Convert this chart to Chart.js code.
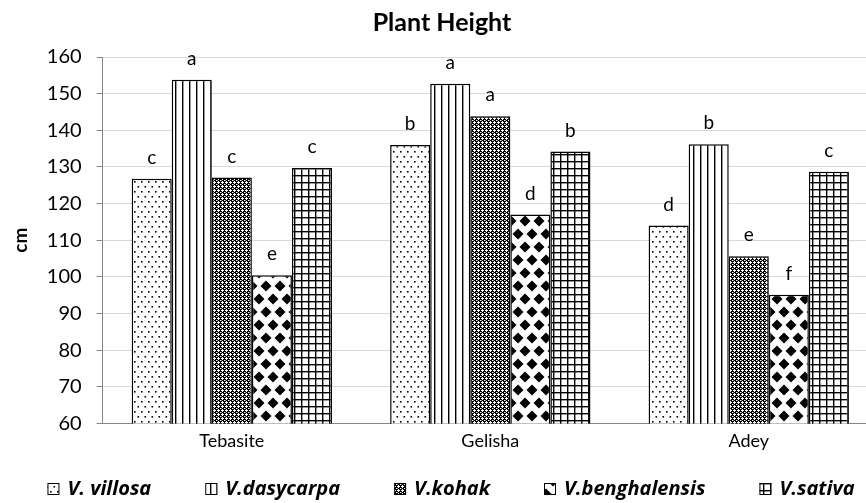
<!DOCTYPE html>
<html>
<head>
<meta charset="utf-8">
<title>Plant Height</title>
<script src="https://cdn.jsdelivr.net/npm/chart.js@4.4.1/dist/chart.umd.min.js"></script>
<style>
    html, body { margin: 0; padding: 0; background: #fff; overflow: hidden; }
    /* the original plot area runs a little past the right edge of the picture */
    #wrap { width: 878px; height: 503px; position: relative; }
</style>
</head>
<body>
<div id="wrap"><canvas id="plantHeightChart"></canvas></div>
<script>
// Plant height (cm) per site and species
const categories = ['Tebasite', 'Gelisha', 'Adey'];
const seriesNames = ['V. villosa', 'V.dasycarpa', 'V.kohak', 'V.benghalensis', 'V.sativa'];
const chartTitle = 'Plant Height';

const villosaValues = [126.8, 136.0, 114.0];
const dasycarpaValues = [153.8, 152.7, 136.2];
const kohakValues = [127.1, 143.8, 105.6];
const benghalensisValues = [100.4, 117.0, 95.1];
const sativaValues = [129.7, 134.2, 128.7];

// Mean separation letters
const villosaLetters = ['c', 'b', 'd'];
const dasycarpaLetters = ['a', 'a', 'b'];
const kohakLetters = ['c', 'a', 'e'];
const benghalensisLetters = ['e', 'd', 'f'];
const sativaLetters = ['c', 'b', 'c'];

const yMin = 60;
const yMax = 160;
const yStep = 10;

const VIEW_WIDTH = 866;
const FONT = 'Lato, "Open Sans", sans-serif';
const LEGEND_FONT = '"Open Sans", Lato, sans-serif';

// Build a fill pattern from a small tile
function makePattern(w, h, draw) {
    const tile = document.createElement('canvas');
    tile.width = w;
    tile.height = h;
    const t = tile.getContext('2d');
    t.fillStyle = '#fff';
    t.fillRect(0, 0, w, h);
    t.fillStyle = '#000';
    draw(t, w, h);
    return t.createPattern(tile, 'repeat');
}

// sparse dots
const dotsPattern = makePattern(7, 10, (t) => {
    t.fillRect(1, 1, 1.6, 1.6);
    t.fillRect(4.5, 6, 1.6, 1.6);
});

// vertical lines
const verticalPattern = makePattern(7, 4, (t) => {
    t.fillRect(0, 0, 1.4, 4);
});

// fine dark texture
const finePattern = makePattern(4, 4, (t) => {
    t.fillRect(0, 0, 4, 4);
    t.fillStyle = '#fff';
    t.fillRect(2, 1, 1, 1);
    t.fillRect(1, 2, 1, 1);
    t.fillRect(2, 2, 1, 1);
    t.fillRect(3, 2, 1, 1);
    t.fillRect(2, 3, 1, 1);
    t.fillRect(0, 0, 1, 1);
    t.fillStyle = '#777';
    t.fillRect(1, 0, 1, 1);
});

// black diamonds
const diamondPattern = makePattern(14, 26, (t) => {
    const r = 5.5;
    const centers = [[0, 0], [14, 0], [0, 26], [14, 26], [7, 13]];
    centers.forEach(([cx, cy]) => {
        t.beginPath();
        t.moveTo(cx, cy - r);
        t.lineTo(cx + r, cy);
        t.lineTo(cx, cy + r);
        t.lineTo(cx - r, cy);
        t.closePath();
        t.fill();
    });
});

// square grid
const gridPattern = makePattern(7, 7, (t) => {
    t.fillRect(0, 0, 7, 1.4);
    t.fillRect(0, 0, 1.4, 7);
});

function makeDataset(label, data, letters, pattern) {
    return {
        label: label,
        data: data,
        letters: letters,
        backgroundColor: pattern,
        borderColor: '#000',
        borderWidth: 1.5,
        borderSkipped: 'bottom'
    };
}

// Title, drawn a little right of centre like the original
const titlePlugin = {
    id: 'plotTitle',
    afterDraw(chart) {
        const ctx = chart.ctx;
        ctx.save();
        ctx.font = 'bold 25px ' + FONT;
        ctx.fillStyle = '#000';
        ctx.textAlign = 'center';
        ctx.textBaseline = 'alphabetic';
        ctx.fillText(chartTitle, VIEW_WIDTH / 2 + 9, 31);
        ctx.restore();
    }
};

// Letters above bars
const letterPlugin = {
    id: 'barLetters',
    afterDatasetsDraw(chart) {
        const ctx = chart.ctx;
        ctx.save();
        ctx.font = '19px ' + FONT;
        ctx.fillStyle = '#000';
        ctx.textAlign = 'center';
        ctx.textBaseline = 'alphabetic';
        chart.data.datasets.forEach((ds, i) => {
            chart.getDatasetMeta(i).data.forEach((bar, j) => {
                ctx.fillText(ds.letters[j], bar.x, bar.y - 15);
            });
        });
        ctx.restore();
    }
};

// Bottom legend with wide spacing between entries
const legendPlugin = {
    id: 'wideLegend',
    afterDraw(chart) {
        const ctx = chart.ctx;
        const boxSize = 12;
        const boxGap = 8;
        const itemGap = 54;
        ctx.save();
        ctx.font = 'italic bold 20px ' + LEGEND_FONT;
        const widths = chart.data.datasets.map(ds => ctx.measureText(ds.label).width);
        const total = widths.reduce((a, w) => a + boxSize + boxGap + w, 0) + itemGap * (widths.length - 1);
        let x = (VIEW_WIDTH - total) / 2 + 18;
        const y = chart.height - 14;
        ctx.textBaseline = 'middle';
        ctx.textAlign = 'left';
        chart.data.datasets.forEach((ds, i) => {
            ctx.fillStyle = ds.backgroundColor;
            ctx.fillRect(x, y - boxSize / 2, boxSize, boxSize);
            ctx.strokeStyle = '#000';
            ctx.lineWidth = 1;
            ctx.strokeRect(x + 0.5, y - boxSize / 2 + 0.5, boxSize - 1, boxSize - 1);
            ctx.fillStyle = '#000';
            ctx.fillText(ds.label, x + boxSize + boxGap, y);
            x += boxSize + boxGap + widths[i] + itemGap;
        });
        ctx.restore();
    }
};

const ctx = document.getElementById('plantHeightChart').getContext('2d');

new Chart(ctx, {
    type: 'bar',
    data: {
        labels: categories,
        datasets: [
            makeDataset(seriesNames[0], villosaValues, villosaLetters, dotsPattern),
            makeDataset(seriesNames[1], dasycarpaValues, dasycarpaLetters, verticalPattern),
            makeDataset(seriesNames[2], kohakValues, kohakLetters, finePattern),
            makeDataset(seriesNames[3], benghalensisValues, benghalensisLetters, diamondPattern),
            makeDataset(seriesNames[4], sativaValues, sativaLetters, gridPattern)
        ]
    },
    options: {
        responsive: true,
        maintainAspectRatio: false,
        animation: false,
        layout: {
            padding: { left: 9, right: 0, top: 57, bottom: 44 }
        },
        datasets: {
            bar: {
                categoryPercentage: 0.775,
                barPercentage: 1.0
            }
        },
        scales: {
            x: {
                grid: { display: false, drawTicks: false },
                border: { display: true, color: '#868686', width: 1 },
                ticks: {
                    color: '#000',
                    font: { family: FONT, size: 18 },
                    padding: 7
                }
            },
            y: {
                min: yMin,
                max: yMax,
                ticks: {
                    stepSize: yStep,
                    color: '#000',
                    font: { family: FONT, size: 20 },
                    padding: 15
                },
                grid: {
                    color: '#d9d9d9',
                    lineWidth: 1,
                    drawTicks: true,
                    tickLength: 6,
                    tickColor: '#868686'
                },
                border: { display: true, color: '#868686', width: 1 },
                title: {
                    display: true,
                    text: 'cm',
                    color: '#000',
                    font: { family: FONT, size: 19, weight: 'bold' },
                    padding: { top: 0, bottom: 0 }
                }
            }
        },
        plugins: {
            title: { display: false },
            legend: { display: false },
            tooltip: { enabled: false }
        }
    },
    plugins: [titlePlugin, letterPlugin, legendPlugin]
});
</script>
</body>
</html>
